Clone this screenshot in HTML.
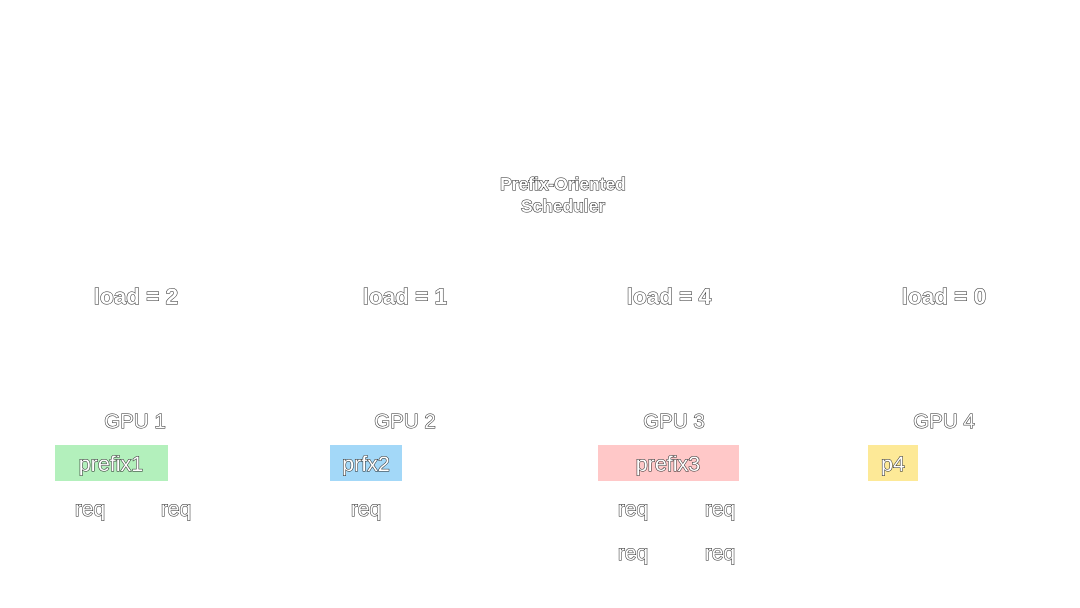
<!DOCTYPE html>
<html><head><style>html,body{margin:0;padding:0;background:#fff}svg{display:block}
text{font-family:"Liberation Sans",sans-serif;fill:#fff;stroke:#222;stroke-width:1;paint-order:stroke;text-anchor:middle}
</style></head><body>
<svg width="1080" height="608" viewBox="0 0 1080 608">
<rect x="0" y="0" width="1080" height="608" fill="#fff"/>
<text x="563" y="190" font-size="17.4" font-weight="bold">Prefix-Oriented</text>
<text x="563" y="212" font-size="17.4" font-weight="bold">Scheduler</text>
<g font-size="22.5" font-weight="bold">
<text x="136" y="304">load = 2</text>
<text x="405" y="304">load = 1</text>
<text x="669" y="304">load = 4</text>
<text x="944" y="304">load = 0</text>
</g>
<g font-size="20.5">
<text x="135" y="428">GPU 1</text>
<text x="405" y="428">GPU 2</text>
<text x="674" y="428">GPU 3</text>
<text x="944" y="428">GPU 4</text>
</g>
<rect x="55" y="445" width="113" height="36" fill="#b3f0bc"/>
<rect x="330" y="445" width="72" height="36" fill="#a3d8f8"/>
<rect x="598" y="445" width="141" height="36" fill="#ffc8c8"/>
<rect x="868" y="445" width="50" height="36" fill="#fde997"/>
<g font-size="21.5">
<text x="111" y="471">prefix1</text>
<text x="366" y="471">prfx2</text>
<text x="668" y="471">prefix3</text>
<text x="893" y="471">p4</text>
</g>
<g font-size="21">
<text x="90" y="516">req</text>
<text x="176" y="516">req</text>
<text x="366" y="516">req</text>
<text x="633" y="516">req</text>
<text x="720" y="516">req</text>
<text x="633" y="560">req</text>
<text x="720" y="560">req</text>
</g>
</svg>
</body></html>
